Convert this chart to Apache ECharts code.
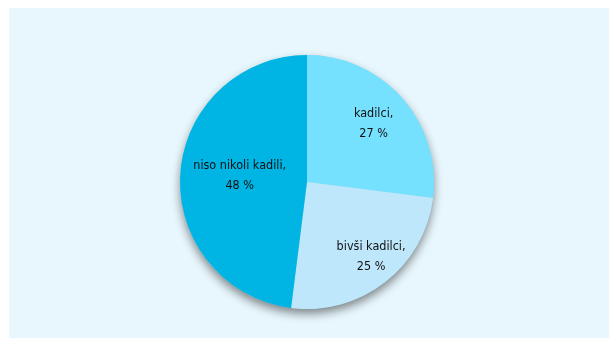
<!DOCTYPE html>
<html>
<head>
<meta charset="utf-8">
<script src="https://cdn.jsdelivr.net/npm/echarts@6/dist/echarts.min.js"></script>
<style>
  html, body { margin: 0; padding: 0; background: #ffffff; }
  #chart { position: absolute; left: 9px; top: 8px; width: 600px; height: 330px; background: #e8f7fd; }
</style>
</head>
<body>
<div id="chart"></div>
<script>
// Smoking status shares (%)
const categories = ['kadilci', 'bivši kadilci', 'niso nikoli kadili'];
const shares = [27, 25, 48];
const colors = ['#75e1fe', '#bfe7fb', '#00b4e3'];

const chart = echarts.init(document.getElementById('chart'));

const cx = 298, cy = 174, R = 127;
const labelFont = '"DejaVu Sans Condensed", "Liberation Sans Narrow", sans-serif';

// small nudges for label placement inside each slice
const labelNudge = {
  'kadilci': [-2, 2],
  'bivši kadilci': [8, 2],
  'niso nikoli kadili': [24, -1]
};

const sliceData = categories.map((c, i) => ({
  name: c, value: shares[i], itemStyle: { color: colors[i] }
}));

const labelData = categories.map((c, i) => ({
  name: c, value: shares[i],
  label: { offset: labelNudge[c] }
}));

chart.setOption({
  animation: false,
  series: [
    {
      // backing disc that casts the shadow
      type: 'pie', silent: true, center: [cx, cy], radius: [0, R],
      label: { show: false }, labelLine: { show: false },
      itemStyle: {
        color: '#9ad6ea', shadowBlur: 10, shadowOffsetY: 5, shadowOffsetX: 0,
        shadowColor: 'rgba(0,0,0,0.45)'
      },
      data: [{ value: 1, name: '' }]
    },
    {
      type: 'pie', silent: true, center: [cx, cy], radius: [0, R],
      startAngle: 90, clockwise: true,
      label: { show: false }, labelLine: { show: false },
      itemStyle: { borderWidth: 0 },
      data: sliceData
    },
    {
      // transparent ring carrying the slice labels
      type: 'pie', silent: true, center: [cx, cy], radius: [50, R],
      startAngle: 90, clockwise: true,
      itemStyle: { color: 'rgba(0,0,0,0)' },
      labelLine: { show: false },
      label: {
        show: true, position: 'inside',
        formatter: p => p.name + ',\n' + p.value + ' %',
        color: '#111111', fontFamily: labelFont, fontSize: 12.5,
        lineHeight: 20, align: 'center'
      },
      data: labelData
    }
  ]
});
</script>
</body>
</html>
